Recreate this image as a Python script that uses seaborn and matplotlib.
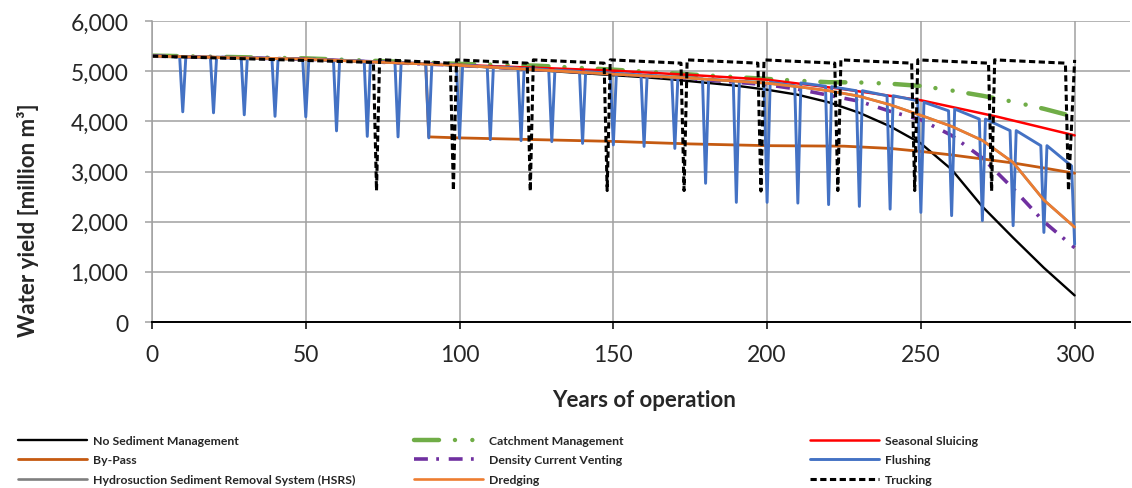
import matplotlib
matplotlib.use("Agg")
import matplotlib.pyplot as plt
import seaborn as sns
import pandas as pd
from matplotlib.ticker import FuncFormatter

sns.set_style("white")
plt.rcParams["font.family"] = ["Lato", "DejaVu Sans"]
plt.rcParams["lines.scale_dashes"] = False

# ---------------------------------------------------------------------------
# Water yield [million m3] per management strategy
# ---------------------------------------------------------------------------
decades = list(range(0, 301, 10))

no_mgmt = [5300, 5290, 5280, 5265, 5250, 5235, 5215, 5190, 5165, 5140,
           5110, 5075, 5040, 5000, 4960, 4920, 4880, 4830, 4770, 4710,
           4630, 4530, 4380, 4170, 3900, 3560, 3040, 2300, 1680, 1080, 530]

catch_years = [0, 50, 100, 125, 150, 175, 200, 210, 220, 230, 240, 250,
               260, 270, 280, 290, 300]
catchment = [5310, 5255, 5145, 5110, 5030, 4935, 4845, 4810, 4780, 4775,
             4750, 4705, 4615, 4510, 4390, 4250, 4090]

sluice_years = [0, 50, 100, 150, 175, 200, 225, 250, 275, 300]
sluicing = [5300, 5245, 5125, 5010, 4925, 4830, 4640, 4420, 4090, 3720]

bypass_years = [0, 20, 40, 60, 80, 89, 90, 100, 125, 150, 175, 200, 225,
                240, 250, 260, 270, 280, 290, 300]
bypass = [5300, 5280, 5250, 5215, 5165, 5145, 3690, 3670, 3635, 3600, 3550,
          3515, 3505, 3460, 3400, 3330, 3250, 3170, 3070, 2965]

venting_years = [0, 50, 100, 150, 175, 200, 210, 220, 230, 240, 250, 260,
                 270, 280, 290, 300]
venting = [5300, 5240, 5115, 4950, 4850, 4730, 4640, 4520, 4400, 4200, 4030,
           3720, 3270, 2660, 2000, 1480]

dredge_years = [0, 50, 100, 150, 175, 200, 210, 220, 230, 240, 250, 260,
                270, 280, 290, 300]
dredging = [5300, 5240, 5115, 4940, 4860, 4760, 4690, 4610, 4500, 4330, 4120,
            3900, 3620, 3180, 2430, 1890]
hsrs = [5300, 5240, 5115, 4940, 4860, 4760, 4690, 4610, 4500, 4330, 4120,
        3900, 3620, 3180, 2430, 1890]

# Flushing every 10 years: level just after a flush, level just before the
# next flush, and the yield in the flushing year itself
flush_after = [5300, 5290, 5280, 5270, 5255, 5240, 5220, 5195, 5170, 5145,
               5115, 5085, 5055, 5020, 4990, 4955, 4920, 4880, 4840, 4800,
               4780, 4765, 4690, 4610, 4510, 4380, 4245, 4045, 3815, 3515]
flush_before = [5285, 5275, 5265, 5252, 5238, 5220, 5198, 5172, 5148, 5118,
                5088, 5058, 5025, 4992, 4960, 4925, 4885, 4845, 4805, 4765,
                4710, 4700, 4610, 4510, 4410, 4210, 4045, 3815, 3515, 3110]
flush_low = [4190, 4170, 4130, 4100, 4090, 3810, 3700, 3690, 3670, 3660,
             3635, 3615, 3595, 3560, 3530, 3500, 3460, 2765, 2385, 2385,
             2370, 2340, 2305, 2250, 2185, 2120, 2020, 1920, 1785, 1550]

# Trucking campaigns every 25 years
truck_start = 5300
truck_drop_year = [73, 98, 123, 148, 173, 198, 223, 248, 273, 298]
truck_rise_year = [74, 99, 124, 149, 174, 199, 224, 249, 274, 300]
truck_before = [5175, 5160, 5160, 5160, 5160, 5160, 5160, 5160, 5160, 5160]
truck_low = [2620, 2620, 2610, 2620, 2620, 2610, 2620, 2620, 2610, 2620]
truck_after = [5230, 5225, 5225, 5225, 5225, 5225, 5225, 5225, 5225, 5225]

# ---------------------------------------------------------------------------
# Assemble the saw-tooth series
# ---------------------------------------------------------------------------
flush_x, flush_y = [0], [flush_after[0]]
for k in range(30):
    base = 10 * k
    if k > 0:
        flush_x.append(base + 1)
        flush_y.append(flush_after[k])
    flush_x += [base + 9, base + 10]
    flush_y += [flush_before[k], flush_low[k]]

truck_x, truck_y = [0], [truck_start]
for d, r, b, lo, a in zip(truck_drop_year, truck_rise_year, truck_before,
                          truck_low, truck_after):
    truck_x += [d - 1, d, r]
    truck_y += [b, lo, a]

# ---------------------------------------------------------------------------
# Figure
# ---------------------------------------------------------------------------
fig = plt.figure(figsize=(11.32, 4.89), dpi=100)
ax = fig.add_axes([152 / 1132, 1 - 323 / 489, (1130 - 152) / 1132, 301 / 489])

series = [
    ("No Sediment Management", decades, no_mgmt,
     dict(color="#000000", lw=1.7)),
    ("Catchment Management", catch_years, catchment,
     dict(color="#70AD47", lw=3.2, linestyle=(0, (18, 11.5, 0.01, 12.5, 0.01, 11.5)),
          dash_capstyle="round")),
    ("Seasonal Sluicing", sluice_years, sluicing,
     dict(color="#FF0000", lw=1.8)),
    ("By-Pass", bypass_years, bypass,
     dict(color="#C55A11", lw=2.0)),
    ("Density Current Venting", venting_years, venting,
     dict(color="#7030A0", lw=2.6, linestyle=(0, (10, 6, 2, 7)))),
    ("Flushing", flush_x, flush_y,
     dict(color="#4472C4", lw=2.1)),
    ("Hydrosuction Sediment Removal System (HSRS)", dredge_years, hsrs,
     dict(color="#7F7F7F", lw=1.9)),
    ("Dredging", dredge_years, dredging,
     dict(color="#ED7D31", lw=1.9)),
    ("Trucking", truck_x, truck_y,
     dict(color="#000000", lw=2.2, linestyle=(0, (4.5, 2.5)))),
]

handles = {}
for name, xs, ys, style in series:
    df = pd.DataFrame({"year": xs, "yield": ys})
    sns.lineplot(data=df, x="year", y="yield", ax=ax, estimator=None,
                 sort=False, legend=False, **style)
    handles[name] = ax.get_lines()[-1]

# Axes, grid, ticks
ax.set_xlim(0, 318)
ax.set_ylim(0, 6000)
ax.set_xticks(range(0, 301, 50))
ax.set_yticks(range(0, 6001, 1000))
ax.yaxis.set_major_formatter(FuncFormatter(lambda v, p: f"{v:,.0f}"))
ax.grid(True, color="#A0A0A0", lw=1.1)
ax.set_axisbelow(True)
for s in ("top", "right"):
    ax.spines[s].set_visible(False)
ax.spines["left"].set_color("#A0A0A0")
ax.spines["left"].set_linewidth(1.1)
ax.spines["bottom"].set_color("#000000")
ax.spines["bottom"].set_linewidth(1.4)
ax.tick_params(axis="x", direction="out", length=5, width=1.1, color="#000000",
               pad=11, labelsize=16.5, bottom=True)
ax.tick_params(axis="y", direction="out", length=5, width=1.1, color="#A0A0A0",
               pad=12, labelsize=16.5, left=True)

ax.set_xlabel("Years of operation", fontsize=16, fontweight="bold", va="center")
ax.xaxis.set_label_coords(0.503, -0.256)
ax.set_ylabel("Water yield [million m³]", fontsize=16, fontweight="bold",
              va="center")
ax.yaxis.set_label_coords(-0.127, 0.34)

# Legend in three columns below the chart
columns = [
    (12, ["No Sediment Management", "By-Pass",
          "Hydrosuction Sediment Removal System (HSRS)"]),
    (408, ["Catchment Management", "Density Current Venting", "Dredging"]),
    (804, ["Seasonal Sluicing", "Flushing", "Trucking"]),
]
for x0, names in columns:
    leg = fig.legend([handles[n] for n in names], names,
                     loc="center left", bbox_to_anchor=(x0 / 1132, 1 - 461 / 489),
                     frameon=False, borderpad=0, handlelength=5.6,
                     handletextpad=0.55, labelspacing=0.68,
                     prop={"weight": "bold", "size": 8.8})

fig.savefig("out.png", dpi=100)
